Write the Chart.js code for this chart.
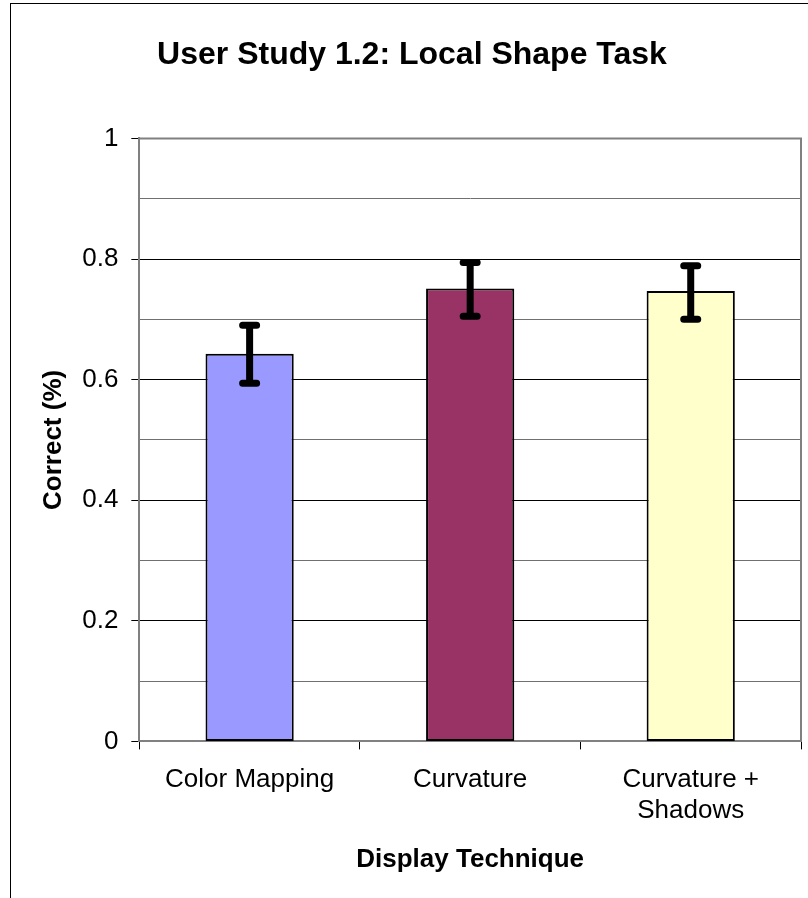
<!DOCTYPE html>
<html>
<head>
<meta charset="utf-8">
<title>User Study 1.2: Local Shape Task</title>
<script src="https://cdn.jsdelivr.net/npm/chart.js@4.4.1/dist/chart.umd.min.js"></script>
<style>
  html, body { margin: 0; padding: 0; background: #fff; }
  #frame {
    position: absolute; left: 10px; top: 3px; width: 798px; height: 895px;
    border-left: 1px solid #000; border-top: 1px solid #000;
  }
  #chart { position: absolute; left: 0; top: 0; }
</style>
</head>
<body>
<div id="frame"></div>
<canvas id="chart" width="808" height="898"></canvas>
<script>
// chart data
const categories = [['Color Mapping'], ['Curvature'], ['Curvature +', 'Shadows']];
const correct = [0.643, 0.751, 0.747];
const errLow = [0.594, 0.705, 0.700];
const errHigh = [0.690, 0.794, 0.789];
const barColors = ['#9999ff', '#993366', '#ffffcc'];
const yTickLabels = ['0', '0.2', '0.4', '0.6', '0.8', '1'];

Chart.defaults.font.family = '"Liberation Sans", Arial, sans-serif';
Chart.defaults.color = '#000';

// thick black error bars with round caps
const errorBars = {
  id: 'errorBars',
  afterDatasetsDraw(chart) {
    const ctx = chart.ctx;
    const y = chart.scales.y;
    const meta = chart.getDatasetMeta(0);
    ctx.save();
    ctx.strokeStyle = '#000';
    ctx.lineCap = 'round';
    ctx.lineWidth = 7;
    meta.data.forEach((bar, i) => {
      const cx = bar.x;
      const lo = y.getPixelForValue(errLow[i]);
      const hi = y.getPixelForValue(errHigh[i]);
      ctx.beginPath();
      ctx.moveTo(cx, lo); ctx.lineTo(cx, hi);
      ctx.moveTo(cx - 7, lo); ctx.lineTo(cx + 7, lo);
      ctx.moveTo(cx - 7, hi); ctx.lineTo(cx + 7, hi);
      ctx.stroke();
    });
    ctx.restore();
  }
};

// grey plot area border on top and right
const plotFrame = {
  id: 'plotFrame',
  beforeDatasetsDraw(chart) {
    const {ctx, chartArea: a} = chart;
    ctx.save();
    ctx.strokeStyle = '#808080';
    ctx.lineWidth = 2;
    ctx.beginPath();
    ctx.moveTo(a.left, a.top);
    ctx.lineTo(a.right, a.top);
    ctx.lineTo(a.right, a.bottom);
    ctx.stroke();
    ctx.restore();
  }
};

new Chart(document.getElementById('chart'), {
  type: 'bar',
  data: {
    labels: categories,
    datasets: [{
      data: correct,
      backgroundColor: barColors,
      borderColor: '#000',
      borderWidth: 2,
      borderSkipped: false,
      categoryPercentage: 1,
      barPercentage: 0.4
    }]
  },
  options: {
    responsive: false,
    animation: false,
    layout: { padding: { left: 23, right: 7, top: 0, bottom: 0 } },
    scales: {
      x: {
        offset: true,
        grid: { offset: true, drawOnChartArea: false, tickLength: 8, tickColor: '#000' },
        border: { color: '#808080', width: 2 },
        ticks: { padding: 15, font: { size: 26 }, maxRotation: 0, autoSkip: false },
        title: {
          display: true,
          text: 'Display Technique',
          font: { size: 26, weight: 'bold' },
          padding: { top: 2, bottom: 23 }
        }
      },
      y: {
        min: 0,
        max: 1,
        ticks: {
          stepSize: 0.1,
          padding: 13,
          font: { size: 26 },
          callback: (v, i) => (i % 2 === 0 ? yTickLabels[i / 2] : '')
        },
        grid: {
          tickLength: 8,
          color: c => (c.index === 10 ? 'transparent' : (c.index % 2 === 0 ? '#000' : '#707070')),
          tickColor: c => (c.index % 2 === 0 ? '#000' : 'transparent')
        },
        border: { color: '#808080', width: 2 },
        title: {
          display: true,
          text: 'Correct (%)',
          font: { size: 26, weight: 'bold' },
          padding: { top: 15, bottom: 0 }
        }
      }
    },
    plugins: {
      legend: { display: false },
      tooltip: { enabled: false },
      title: {
        display: true,
        text: 'User Study 1.2: Local Shape Task',
        font: { size: 32, weight: 'bold' },
        color: '#000',
        padding: { top: 36, bottom: 64 }
      }
    }
  },
  plugins: [plotFrame, errorBars]
});
</script>
</body>
</html>
